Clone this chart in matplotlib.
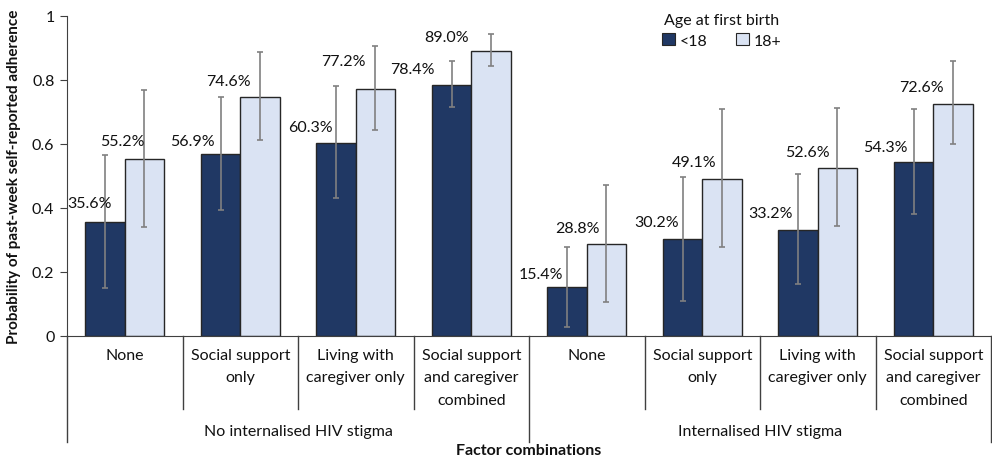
import matplotlib
matplotlib.use("Agg")
import matplotlib.pyplot as plt
from matplotlib.patches import Patch
from matplotlib.lines import Line2D
import numpy as np

plt.rcParams['font.family'] = ['Lato', 'DejaVu Sans']

categories = ["None", "Social support\nonly", "Living with\ncaregiver only",
              "Social support\nand caregiver\ncombined"] * 2
groups = ["No internalised HIV stigma", "Internalised HIV stigma"]
series_names = ["<18", "18+"]
under18 = [0.356, 0.569, 0.603, 0.784, 0.154, 0.302, 0.332, 0.543]
over18 = [0.552, 0.746, 0.772, 0.890, 0.288, 0.491, 0.526, 0.726]
under18_lo = [0.151, 0.394, 0.430, 0.715, 0.029, 0.110, 0.162, 0.381]
under18_hi = [0.565, 0.748, 0.782, 0.860, 0.279, 0.496, 0.506, 0.709]
over18_lo = [0.340, 0.612, 0.644, 0.844, 0.105, 0.277, 0.345, 0.600]
over18_hi = [0.770, 0.886, 0.907, 0.944, 0.473, 0.709, 0.711, 0.859]
yticks = [0, 0.2, 0.4, 0.6, 0.8, 1]
ytick_labels = ["0", "0.2", "0.4", "0.6", "0.8", "1"]

# layout: data-label offsets in pixels (right edge vs. bar centre, centre above bar top)
lab_dx = [[7, -6, -3, -17, -4, -4, -5, -6], [0, -9, -10, -22, -7, -5, -8, -9]]
lab_dy = [[19, 13, 16, 16, 13, 17, 17, 15], [18, 16, 28, 14, 16, 17, 16, 17]]

dark = "#203864"
light = "#DAE3F3"
edge = "#262626"
errc = "#808080"
txt = "#111111"

fig = plt.figure(figsize=(9.92, 4.6), dpi=100)
ax = fig.add_axes([67/992, 1-337/460, 1-67/992-0.001, 320/460])

x = np.arange(len(categories))
w = 0.34
series = [(under18, under18_lo, under18_hi, dark, -w/2),
          (over18, over18_lo, over18_hi, light, w/2)]
for si, (vals, lo, hi, col, off) in enumerate(series):
    vals = np.array(vals)
    ax.bar(x + off, vals, width=w, color=col, edgecolor=edge, linewidth=1.0, zorder=2)
    yerr = np.vstack([vals - np.array(lo), np.array(hi) - vals])
    ax.errorbar(x + off, vals, yerr=yerr, fmt='none', ecolor=errc, elinewidth=1.2,
                capsize=2.5, capthick=1.2, zorder=3)
    for k, (xi, v) in enumerate(zip(x + off, vals)):
        ax.annotate(f"{v*100:.1f}%", xy=(xi, v), xytext=(lab_dx[si][k], lab_dy[si][k]),
                    textcoords='offset pixels', ha='right', va='center',
                    fontsize=11.5, color=txt, zorder=4)

ax.set_xlim(-0.5, len(categories) - 0.5)
ax.set_ylim(0, 1)
ax.set_yticks(yticks)
ax.set_yticklabels(ytick_labels, fontsize=11.5, color=txt)
ax.set_xticks([])
for s in ['top', 'right']:
    ax.spines[s].set_visible(False)
ax.spines['left'].set_color('#404040')
ax.spines['bottom'].set_color('#404040')
ax.tick_params(axis='y', direction='out', length=5, color='#404040', pad=4)

ax.set_ylabel("Probability of past-week self-reported adherence", fontsize=11,
              fontweight='bold', labelpad=8, color=txt)

trans = ax.get_xaxis_transform()
px = 1 / 320.0
for xi, lab in zip(x, categories):
    for k, ln in enumerate(lab.split("\n")):
        ax.text(xi, -(356 + 22.5*k - 337)*px, ln, transform=trans, ha='center',
                va='center', fontsize=11.5, color=txt)
for b in range(len(categories) + 1):
    xb = b - 0.5
    long = (b % 4 == 0)
    ybot = -(443 - 337)*px if long else -(410 - 337)*px
    ax.add_line(Line2D([xb, xb], [0, ybot], transform=trans, color='#404040',
                       linewidth=1.0, clip_on=False))
for gi, g in enumerate(groups):
    ax.text(gi*4 + 1.5, -(432 - 337)*px, g, transform=trans, ha='center', va='center',
            fontsize=11.5, color=txt)
ax.text(3.5, -(451 - 337)*px, "Factor combinations", transform=trans, ha='center',
        va='center', fontsize=11.5, fontweight='bold', color=txt)

handles = [Patch(facecolor=dark, edgecolor=edge, linewidth=0.8),
           Patch(facecolor=light, edgecolor=edge, linewidth=0.8)]
leg = fig.legend(handles, series_names, title="Age at first birth", ncol=2,
                 loc='upper center', bbox_to_anchor=(722/992, 1 - 8/460),
                 frameon=False, fontsize=11.5, title_fontsize=11.5, handlelength=0.8,
                 handleheight=0.8, handletextpad=0.3, columnspacing=1.8,
                 borderaxespad=0, labelspacing=0.2)
leg._legend_box.sep = 4
for t in leg.get_texts():
    t.set_color(txt)
leg.get_title().set_color(txt)

fig.savefig("out.png", dpi=100)
